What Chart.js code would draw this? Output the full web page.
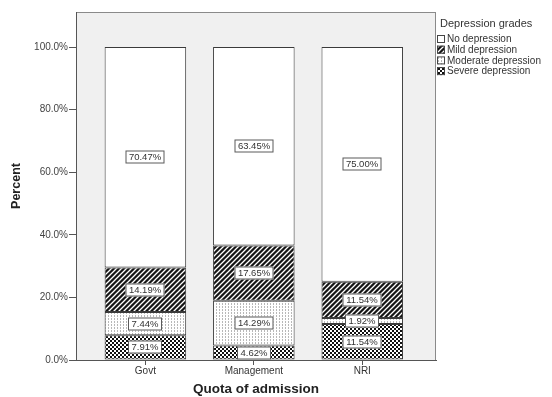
<!DOCTYPE html>
<html>
<head>
<meta charset="utf-8">
<script src="https://cdn.jsdelivr.net/npm/chart.js@4/dist/chart.umd.min.js"></script>
<style>
  html, body { margin: 0; padding: 0; background: #fff; }
  #wrap { width: 552px; height: 397px; }
</style>
</head>
<body>
<div id="wrap"><canvas id="c" width="552" height="397"></canvas></div>
<script>
// Depression grade shares (%) by quota of admission
const categories = ['Govt', 'Management', 'NRI'];
const severe   = [7.91, 4.62, 11.54];
const moderate = [7.44, 14.29, 1.92];
const mild     = [14.19, 17.65, 11.54];
const noDep    = [70.47, 63.45, 75.00];
const yTicks   = [0, 20, 40, 60, 80, 100];
const legendTitle = 'Depression grades';

const FONT = "'Liberation Sans', Arial, sans-serif";
Chart.defaults.font.family = FONT;

// --- fill patterns ---
function tile(w, h, paint) {
  const cv = document.createElement('canvas');
  cv.width = w; cv.height = h;
  const g = cv.getContext('2d');
  paint(g, w, h);
  return document.createElement('canvas').getContext('2d').createPattern(cv, 'repeat');
}
const checkerFill = tile(4, 4, (g) => {
  g.fillStyle = '#111'; g.fillRect(0, 0, 4, 4);
  g.fillStyle = '#fff'; g.fillRect(0, 0, 2, 2); g.fillRect(2, 2, 2, 2);
});
const dottedFill = tile(3, 3, (g) => {
  g.fillStyle = '#fff'; g.fillRect(0, 0, 3, 3);
  g.fillStyle = '#b8b8b8'; g.fillRect(0, 0, 1, 2);
});
const hatchFill = tile(5, 5, (g, s) => {
  g.fillStyle = '#151515'; g.fillRect(0, 0, s, s);
  g.strokeStyle = '#fff'; g.lineWidth = 1.3;
  g.beginPath();
  g.moveTo(-1, s + 1); g.lineTo(s + 1, -1);
  g.moveTo(-1, 1); g.lineTo(1, -1);
  g.moveTo(s - 1, s + 1); g.lineTo(s + 1, s - 1);
  g.stroke();
});

const series = [
  { label: 'Severe depression',   values: severe,   fill: checkerFill },
  { label: 'Moderate depression', values: moderate, fill: dottedFill },
  { label: 'Mild depression',     values: mild,     fill: hatchFill },
  { label: 'No depression',       values: noDep,    fill: '#ffffff' }
];

// plot frame and grey panel
const panelPlugin = {
  id: 'panel',
  beforeDraw(chart) {
    const { ctx, chartArea: a } = chart;
    ctx.save();
    ctx.fillStyle = '#ffffff';
    ctx.fillRect(0, 0, chart.width, chart.height);
    ctx.fillStyle = '#f0f0f0';
    ctx.fillRect(a.left, a.top, a.right - a.left, a.bottom - a.top);
    ctx.strokeStyle = '#8a8a8a';
    ctx.lineWidth = 1;
    ctx.strokeRect(a.left + 0.5, a.top + 0.5, a.right - a.left - 1, a.bottom - a.top);
    ctx.restore();
  }
};

// boxed value labels in the middle of each segment
const valueLabels = {
  id: 'valueLabels',
  afterDatasetsDraw(chart) {
    const ctx = chart.ctx;
    ctx.save();
    ctx.font = '9.5px ' + FONT;
    ctx.textAlign = 'center';
    ctx.textBaseline = 'middle';
    chart.data.datasets.forEach((ds, d) => {
      const meta = chart.getDatasetMeta(d);
      meta.data.forEach((bar, i) => {
        const v = ds.data[i].y;
        const txt = v.toFixed(2) + '%';
        const cx = Math.round(bar.x);
        const cy = Math.round((bar.y + bar.base) / 2);
        const w = Math.round(ctx.measureText(txt).width) + 7;
        const h = 13;
        ctx.fillStyle = '#ffffff';
        ctx.fillRect(cx - w / 2, cy - h / 2, w, h);
        ctx.strokeStyle = '#5a5a5a';
        ctx.lineWidth = 1;
        ctx.strokeRect(cx - w / 2 + 0.5, cy - h / 2 + 0.5, w - 1, h - 1);
        ctx.fillStyle = '#333';
        ctx.fillText(txt, cx, cy + 0.5);
      });
    });
    ctx.restore();
  }
};

// legend at the right of the panel
const sideLegend = {
  id: 'sideLegend',
  afterDraw(chart) {
    const ctx = chart.ctx;
    const x0 = chart.chartArea.right + 1;
    ctx.save();
    ctx.textBaseline = 'middle';
    ctx.textAlign = 'left';
    ctx.fillStyle = '#333';
    ctx.font = '11px ' + FONT;
    ctx.fillText(legendTitle, x0 + 3, 24);
    ctx.font = '10px ' + FONT;
    const items = chart.data.datasets.slice().reverse();
    items.forEach((ds, k) => {
      const y = 39 + k * 10.7;
      ctx.fillStyle = ds.backgroundColor;
      ctx.fillRect(x0, y - 4, 8, 8);
      ctx.strokeStyle = '#444';
      ctx.lineWidth = 1;
      ctx.strokeRect(x0 + 0.5, y - 3.5, 7, 7);
      ctx.fillStyle = '#333';
      ctx.fillText(ds.label, x0 + 10, y + 0.5);
    });
    ctx.restore();
  }
};

new Chart(document.getElementById('c'), {
  type: 'bar',
  data: {
    datasets: series.map(s => ({
      label: s.label,
      data: s.values.map((v, i) => ({ x: i, y: v })),
      backgroundColor: s.fill,
      borderColor: '#3a3a3a',
      borderWidth: 1,
      borderSkipped: false,
      barPercentage: 0.752,
      categoryPercentage: 1
    }))
  },
  options: {
    responsive: false,
    animation: false,
    devicePixelRatio: 1,
    layout: { padding: { top: 12, right: 116, left: 0, bottom: 0 } },
    plugins: { legend: { display: false }, tooltip: { enabled: false } },
    scales: {
      x: {
        type: 'linear',
        stacked: true,
        offset: false,
        min: -0.64,
        max: 2.68,
        afterBuildTicks(s) { s.ticks = categories.map((c, i) => ({ value: i })); },
        afterFit(s) { s.height = 37; },
        ticks: {
          autoSkip: false, maxRotation: 0, padding: 0,
          color: '#333', font: { size: 10 },
          callback: (v) => categories[v]
        },
        grid: { offset: false, drawOnChartArea: false, drawTicks: true, tickLength: 5, color: '#555' },
        border: { display: true, color: '#555' },
        title: {
          display: true, text: 'Quota of admission', color: '#222',
          font: { size: 13.5, weight: 'bold' }, padding: { top: 0, bottom: 0 }
        }
      },
      y: {
        stacked: true,
        min: 0,
        max: 111.2,
        afterBuildTicks(s) { s.ticks = yTicks.map(v => ({ value: v })); },
        afterFit(s) { s.width = 76; },
        ticks: {
          autoSkip: false, padding: 1, color: '#444', font: { size: 10 },
          callback: (v) => v.toFixed(1) + '%'
        },
        grid: { drawOnChartArea: false, drawTicks: true, tickLength: 7, color: '#555' },
        border: { display: true, color: '#555' },
        title: {
          display: true, text: 'Percent', color: '#222',
          font: { size: 12.5, weight: 'bold' }, padding: { top: 9, bottom: 0 }
        }
      }
    }
  },
  plugins: [panelPlugin, valueLabels, sideLegend]
});
</script>
</body>
</html>
